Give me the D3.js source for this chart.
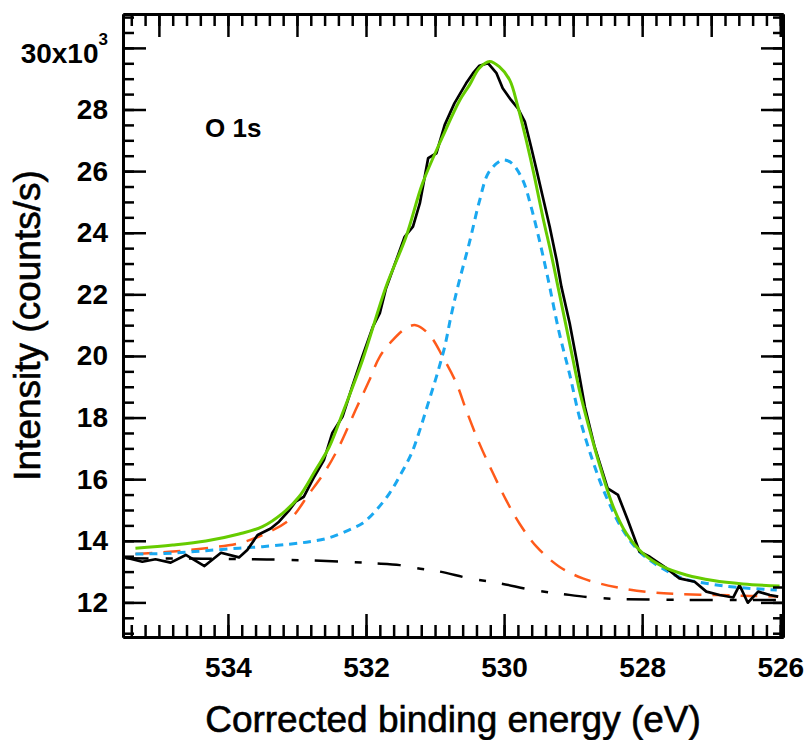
<!DOCTYPE html>
<html>
<head>
<meta charset="utf-8">
<script src="https://cdn.jsdelivr.net/npm/d3@7"></script>
<style>
  body { margin: 0; background: #fff; }
  svg { font-family: "Liberation Sans", Arial, sans-serif; }
  .tick text { fill: #000; }
  .title { stroke: #000; stroke-width: 0.6px; }
</style>
</head>
<body>
<svg id="chart" width="806" height="740"></svg>
<script>
// 数据 (binding energy eV, intensity x1000 counts/s)
const measured = [
  [535.53, 13.48], [535.24, 13.32], [535.05, 13.40], [534.83, 13.29], [534.61, 13.54],
  [534.34, 13.18], [534.10, 13.61], [533.84, 13.46], [533.72, 13.70], [533.57, 14.19],
  [533.38, 14.40], [533.26, 14.62], [533.11, 15.00], [533.02, 15.27], [532.90, 15.43],
  [532.75, 16.08], [532.61, 16.62], [532.49, 17.49], [532.34, 18.03], [532.20, 19.00],
  [532.05, 20.00], [531.90, 20.95], [531.80, 21.39], [531.71, 22.20], [531.56, 23.12],
  [531.44, 23.87], [531.32, 24.20], [531.22, 24.96], [531.10, 26.42], [530.98, 26.58],
  [530.86, 27.50], [530.72, 28.20], [530.55, 28.85], [530.45, 29.18], [530.36, 29.42],
  [530.23, 29.50], [530.11, 29.18], [530.02, 28.69], [529.90, 28.31], [529.80, 28.04],
  [529.70, 27.61], [529.61, 26.80], [529.53, 26.04], [529.44, 25.17], [529.34, 24.20],
  [529.24, 23.12], [529.17, 22.25], [529.05, 21.06], [528.95, 19.87], [528.83, 18.35],
  [528.69, 17.06], [528.50, 15.70], [528.35, 15.49], [528.21, 14.68], [528.04, 13.65],
  [527.89, 13.48], [527.65, 13.11], [527.46, 12.78], [527.24, 12.67], [527.07, 12.35],
  [526.88, 12.24], [526.68, 12.16], [526.59, 12.56], [526.47, 11.99], [526.32, 12.35],
  [526.15, 12.24], [526.03, 12.19]
];
const envelope = [
  [535.34, 13.76], [534.80, 13.86], [534.32, 13.99], [533.84, 14.22], [533.50, 14.46],
  [533.21, 14.89], [532.97, 15.43], [532.73, 16.30], [532.53, 17.06], [532.34, 18.14],
  [532.05, 19.87], [531.71, 22.25], [531.42, 23.87], [531.18, 25.61], [530.89, 27.12],
  [530.64, 28.31], [530.50, 28.80], [530.36, 29.34], [530.21, 29.56], [530.07, 29.39],
  [529.92, 28.96], [529.80, 28.09], [529.68, 27.01], [529.56, 25.82], [529.44, 24.52],
  [529.32, 23.33], [529.22, 22.25], [529.05, 20.41], [528.91, 18.90], [528.76, 17.60],
  [528.61, 16.41], [528.42, 15.11], [528.23, 14.24], [527.99, 13.59], [527.70, 13.16],
  [527.36, 12.89], [526.97, 12.71], [526.54, 12.60], [526.01, 12.53]
];
const peakHigh = [
  [535.34, 13.57], [534.80, 13.65], [534.32, 13.76], [533.84, 13.92], [533.50, 14.19],
  [533.11, 14.68], [532.82, 15.54], [532.58, 16.30], [532.39, 17.06], [532.15, 18.25],
  [531.95, 19.22], [531.80, 19.98], [531.61, 20.52], [531.42, 20.90], [531.28, 21.00],
  [531.08, 20.68], [530.89, 19.98], [530.69, 19.11], [530.55, 18.25], [530.36, 17.17],
  [530.16, 16.19], [529.97, 15.32], [529.78, 14.57], [529.53, 13.81], [529.20, 13.16],
  [528.86, 12.78], [528.37, 12.49], [527.89, 12.33], [527.46, 12.27], [526.92, 12.24],
  [526.44, 12.21], [526.03, 12.19]
];
const peakLow = [
  [535.34, 13.57], [534.80, 13.60], [534.32, 13.68], [533.84, 13.76], [533.50, 13.81],
  [533.11, 13.89], [532.82, 13.97], [532.53, 14.10], [532.25, 14.35], [532.05, 14.57],
  [531.85, 15.00], [531.66, 15.54], [531.49, 16.19], [531.34, 16.84], [531.22, 17.60],
  [531.10, 18.46], [530.98, 19.33], [530.86, 20.30], [530.77, 21.28], [530.67, 22.25],
  [530.50, 23.70], [530.36, 25.00], [530.23, 25.93], [530.07, 26.31], [530.00, 26.36],
  [529.89, 26.26], [529.73, 25.71], [529.61, 24.85], [529.49, 23.77], [529.37, 22.57],
  [529.20, 20.74], [529.05, 19.40], [528.91, 18.03], [528.72, 16.62], [528.52, 15.43],
  [528.28, 14.35], [528.04, 13.65], [527.75, 13.16], [527.41, 12.78], [527.02, 12.60],
  [526.63, 12.49], [526.05, 12.40]
];
const background = [
  [535.48, 13.43], [534.37, 13.42], [533.69, 13.40], [533.11, 13.38], [532.29, 13.32],
  [531.90, 13.27], [531.51, 13.21], [531.27, 13.11], [530.93, 13.00], [530.50, 12.78],
  [530.06, 12.62], [529.58, 12.40], [529.15, 12.27], [528.61, 12.14], [527.84, 12.09],
  [526.69, 12.08], [526.01, 12.08]
];

const xMajor = [534, 532, 530, 528, 526];
const xTopMajor = [535, 534, 533, 532, 531, 530, 529, 528, 527, 526];
const yMajor = [12, 14, 16, 18, 20, 22, 24, 26, 28, 30];

// 容器
const svg = d3.select('#chart');
const box = { left: 123, right: 783, top: 14, bottom: 637 };

const x = d3.scaleLinear().domain([535.52, 525.96]).range([box.left, box.right]);
const y = d3.scaleLinear().domain([10.877, 31.10]).range([box.bottom, box.top]);

const xMinor = d3.range(0, 48).map(i => 526 + i * 0.2).filter(v => v < 535.5);
const yMinor = d3.range(0, 41).map(i => 11 + i * 0.5).filter(v => v <= 31.05);

svg.append('clipPath').attr('id', 'clip')
  .append('rect')
    .attr('x', box.left).attr('y', box.top)
    .attr('width', box.right - box.left).attr('height', box.bottom - box.top);

const plot = svg.append('g').attr('clip-path', 'url(#clip)');

const line = d3.line().x(d => x(d[0])).y(d => y(d[1]));
const smooth = d3.line().curve(d3.curveCatmullRom).x(d => x(d[0])).y(d => y(d[1]));

plot.append('path').datum(background)
  .attr('d', smooth).attr('fill', 'none')
  .attr('stroke', '#000').attr('stroke-width', 2.5)
  .attr('stroke-dasharray', '23,17,7,16');
plot.append('path').datum(peakHigh)
  .attr('d', smooth).attr('fill', 'none')
  .attr('stroke', '#ff5a1a').attr('stroke-width', 2.5)
  .attr('stroke-dasharray', '17,11');
plot.append('path').datum(peakLow)
  .attr('d', smooth).attr('fill', 'none')
  .attr('stroke', '#1aa8f0').attr('stroke-width', 3)
  .attr('stroke-dasharray', '8,6');
plot.append('path').datum(measured)
  .attr('d', line).attr('fill', 'none')
  .attr('stroke', '#000').attr('stroke-width', 2.7)
  .attr('stroke-linejoin', 'round');
plot.append('path').datum(envelope)
  .attr('d', smooth).attr('fill', 'none')
  .attr('stroke', '#66cc00').attr('stroke-width', 3);

// 坐标轴
function drawAxis(gen, tx, ty, values, size, fmt, pad) {
  const g = svg.append('g')
    .attr('transform', `translate(${tx},${ty})`)
    .call(gen.tickValues(values).tickSize(size).tickSizeOuter(0)
      .tickFormat(fmt || (() => '')).tickPadding(pad || 0));
  g.select('.domain').attr('stroke-width', 3);
  g.selectAll('.tick line').attr('stroke-width', 2.5);
  g.selectAll('.tick text').attr('font-size', 28).attr('font-weight', 'bold');
  return g;
}

drawAxis(d3.axisBottom(x), 0, box.bottom, xMinor, -12);
drawAxis(d3.axisBottom(x), 0, box.bottom, xMajor, -23, d3.format('d'), 20);
drawAxis(d3.axisTop(x), 0, box.top, xMinor, -12);
drawAxis(d3.axisTop(x), 0, box.top, xTopMajor, -23);
drawAxis(d3.axisRight(y), box.right, 0, yMinor, -10);
drawAxis(d3.axisRight(y), box.right, 0, yMajor, -22);
drawAxis(d3.axisLeft(y), box.left, 0, yMinor, -11);
const yAx = drawAxis(d3.axisLeft(y), box.left, 0, yMajor, -23, d3.format('d'), 15);

// 30x10^3 标签
yAx.selectAll('.tick text').filter(d => d === 30)
  .text(null)
  .attr('dy', null).attr('y', 15)
  .call(t => {
    t.append('tspan').text('30x10');
    t.append('tspan').text('3').attr('font-size', 17).attr('dy', -18);
  });

// 标题
svg.append('text').attr('class', 'title')
  .attr('x', (box.left + box.right) / 2).attr('y', 732)
  .attr('text-anchor', 'middle').attr('font-size', 37)
  .text('Corrected binding energy (eV)');
svg.append('text').attr('class', 'title')
  .attr('transform', `translate(40,${(box.top + box.bottom) / 2}) rotate(-90)`)
  .attr('text-anchor', 'middle').attr('font-size', 37)
  .text('Intensity (counts/s)');
svg.append('text')
  .attr('x', 205).attr('y', 137).attr('font-size', 26).attr('font-weight', 'bold')
  .text('O 1s');
</script>
</body>
</html>
